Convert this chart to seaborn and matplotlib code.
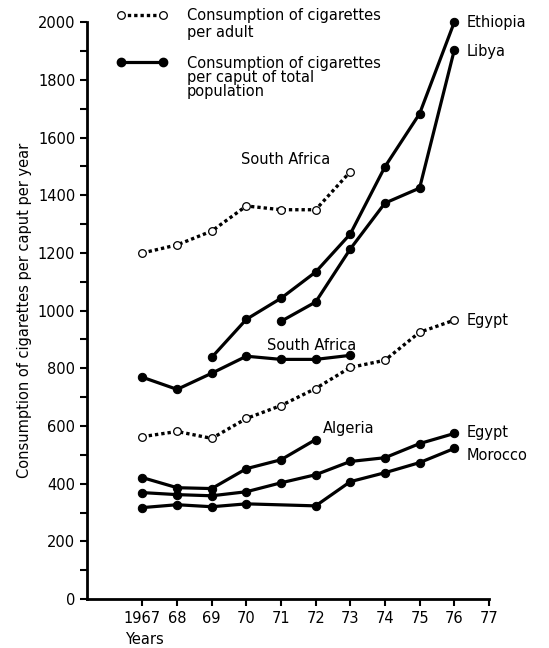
import matplotlib
matplotlib.use("Agg")
import matplotlib.pyplot as plt
from matplotlib.ticker import MultipleLocator
import seaborn as sns
import pandas as pd

# per adult (dotted, open circles)
sa_adult_years = [1967, 1968, 1969, 1970, 1971, 1972, 1973]
sa_adult = [1200, 1228, 1276, 1363, 1350, 1350, 1482]
eg_adult_years = [1967, 1968, 1969, 1970, 1971, 1972, 1973, 1974, 1975, 1976]
eg_adult = [563, 581, 557, 626, 671, 730, 803, 828, 925, 967]

# per caput of total population (solid, filled circles)
eth_years = [1969, 1970, 1971, 1972, 1973, 1974, 1975, 1976]
eth = [838, 970, 1043, 1134, 1266, 1499, 1683, 2000]
lib_years = [1971, 1972, 1973, 1974, 1975, 1976]
lib = [963, 1030, 1214, 1373, 1425, 1903]
sa_years = [1967, 1968, 1969, 1970, 1971, 1972, 1973]
sa = [769, 727, 783, 842, 831, 831, 845]
alg_years = [1967, 1968, 1969, 1970, 1971, 1972]
alg = [421, 386, 383, 452, 483, 553]
eg_years = [1967, 1968, 1969, 1970, 1971, 1972, 1973, 1974, 1975, 1976]
eg = [369, 362, 358, 372, 403, 431, 477, 490, 539, 574]
mor_years = [1967, 1968, 1969, 1970, 1972, 1973, 1974, 1975, 1976]
mor = [317, 327, 320, 330, 323, 407, 438, 473, 522]

tick_years = list(range(1967, 1978))
tick_labels = ["1967", "68", "69", "70", "71", "72", "73", "74", "75", "76", "77"]

sns.set_style("ticks")
plt.rcParams["font.family"] = ["DejaVu Sans"]
for k in ["text.color", "axes.labelcolor", "xtick.color", "ytick.color",
          "axes.edgecolor"]:
    plt.rcParams[k] = "black"

fig = plt.figure(figsize=(5.49, 6.48), dpi=100)
ax = fig.add_axes([0.1585, 0.0756, 0.732, 0.890])

dotted = dict(color="black", linewidth=2.4, linestyle=(0, (1.0, 0.9)),
              marker="o", markersize=5.5, markerfacecolor="white",
              markeredgecolor="black", markeredgewidth=0.9, clip_on=False)
solid = dict(color="black", linewidth=2.3, marker="o", markersize=6,
             markerfacecolor="black", markeredgecolor="black", clip_on=False)

for xs, ys in [(sa_adult_years, sa_adult), (eg_adult_years, eg_adult)]:
    df = pd.DataFrame({"year": xs, "value": ys})
    sns.lineplot(data=df, x="year", y="value", ax=ax, **dotted)

for xs, ys in [(eth_years, eth), (lib_years, lib), (sa_years, sa),
               (alg_years, alg), (eg_years, eg), (mor_years, mor)]:
    df = pd.DataFrame({"year": xs, "value": ys})
    sns.lineplot(data=df, x="year", y="value", ax=ax, **solid)

fs = 10.5
ax.text(1976.35, eth[-1], "Ethiopia", fontsize=fs, va="center")
ax.text(1976.35, lib[-1] - 5, "Libya", fontsize=fs, va="center")
ax.text(1976.35, eg_adult[-1], "Egypt", fontsize=fs, va="center")
ax.text(1976.35, eg[-1] + 5, "Egypt", fontsize=fs, va="center")
ax.text(1976.35, mor[-1] - 25, "Morocco", fontsize=fs, va="center")
ax.text(1969.85, 1525, "South Africa", fontsize=fs, va="center")
ax.text(1970.6, 880, "South Africa", fontsize=fs, va="center")
ax.text(1972.2, 590, "Algeria", fontsize=fs, va="center")

ax.set_xlim(1965.4, 1977)
ax.set_ylim(0, 2000)
ax.set_xticks(tick_years)
ax.set_xticklabels(tick_labels, fontsize=fs)
ax.yaxis.set_major_locator(MultipleLocator(200))
ax.yaxis.set_minor_locator(MultipleLocator(100))
ax.tick_params(axis="y", which="both", length=5, width=1.5, labelsize=fs)
ax.tick_params(axis="x", length=5, width=1.5)
for s in ["left", "bottom"]:
    ax.spines[s].set_linewidth(2)
sns.despine(ax=ax)
ax.set_xlabel("")
ax.set_ylabel("Consumption of cigarettes per caput per year", fontsize=fs)
ax.text(1966.5, -140, "Years", fontsize=fs, va="center")

# legend: handles sit next to the first line of each label
h1 = plt.Line2D([], [], **dotted)
h2 = plt.Line2D([], [], **solid)
ax.legend([h1, h2], ["Consumption of cigarettes", "Consumption of cigarettes"],
          loc="upper left", bbox_to_anchor=(0.202, 0.997),
          bbox_transform=fig.transFigure, frameon=False,
          fontsize=fs, numpoints=2, handlelength=3.5, labelspacing=2.25,
          handletextpad=1.3, borderaxespad=0)
fig.text(0.3405, 1 - 33 / 648, "per adult", fontsize=fs, va="center")
fig.text(0.3405, 1 - 70 / 648, "per caput of total\npopulation", fontsize=fs,
         va="top", linespacing=0.95)

fig.savefig("out.png", dpi=100)
